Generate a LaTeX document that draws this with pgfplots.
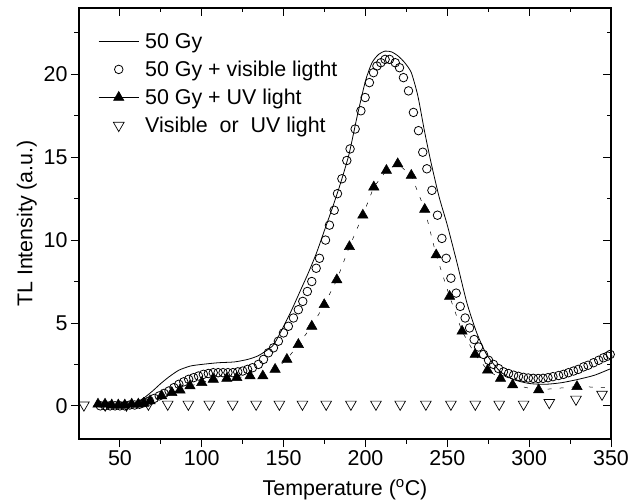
\documentclass[border=0pt]{standalone}
\usepackage{fontspec}
\setmainfont{Liberation Sans}
\usepackage{pgfplots}
\pgfplotsset{compat=1.18}
\pgfplotsset{
  leg line/.style={legend image code/.code={\draw[##1] (0bp,0bp) -- (40bp,0bp);}},
  leg mark/.style={legend image code/.code={\draw[##1] plot coordinates {(20bp,0bp)};}},
  leg linemark/.style={legend image code/.code={\draw[##1,solid] (0bp,0bp) -- (40bp,0bp); \draw[##1] plot coordinates {(20bp,0bp)};}},
  common/.style={
    scale only axis, width=532bp, height=431bp,
    xmin=25, xmax=350, ymin=-2, ymax=24,
    at={(0,0)}, anchor=south west,
    xtick={50,100,...,350}, minor xtick={75,125,...,325},
    ytick={0,5,...,20}, minor ytick={-2.5,2.5,7.5,...,22.5},
    major tick length=8bp, minor tick length=4.5bp,
    tick style={black, line width=0.9bp},
    axis line style={line width=1.2bp},
  }
}
\begin{document}
\begin{tikzpicture}
\begin{axis}[common,
  tick align=inside, xtick pos=top, ytick pos=right,
  xticklabels={}, yticklabels={},
]
\end{axis}
\begin{axis}[common,
  tick align=outside, xtick pos=bottom, ytick pos=left,
  ticklabel style={font=\fontsize{21.5}{25}\selectfont},
  /pgf/number format/assume math mode=true,
  xlabel={Temperature (\textsuperscript{o}C)},
  ylabel={TL Intensity (a.u.)},
  label style={font=\fontsize{21.5}{25}\selectfont},
  xlabel style={yshift=-7bp},
  legend style={draw=none, fill=none, at={(0.036,0.946)}, anchor=north west,
    font=\fontsize{21.5}{25}\selectfont, row sep=7bp, column sep=4bp, inner sep=0pt},
  legend cell align=left,
]
% 50 Gy
\addplot[black, line width=0.8pt, smooth, tension=0.4, leg line]
coordinates {
(35,0.0) (45,0.02) (55,0.08) (60,0.2) (65,0.5) (70,0.9) (75,1.35) (80,1.75)
(86,2.15) (93,2.4) (100,2.5) (110,2.6) (120,2.65) (128,2.8) (134,3.0) (139,3.3)
(144,3.7) (150,4.8) (155,5.8) (160,6.9) (165,8.0) (170,9.2) (175,10.6) (180,12.0)
(185,13.5) (190,15.2) (195,17.5) (200,19.6) (204,20.7) (208,21.2) (212,21.4)
(216,21.35) (220,21.1) (224,20.7) (228,20.1) (232,18.7) (236,16.6) (240,14.7)
(245,12.6) (250,10.9) (256,8.6) (262,6.2) (268,4.4) (274,3.1) (282,2.1) (290,1.6)
(300,1.35) (310,1.3) (320,1.4) (330,1.6) (340,1.85) (350,2.25)
};
\addlegendentry{50 Gy}
% 50 Gy + visible
\addplot[only marks, mark=o, mark size=4.3pt, mark options={line width=0.8pt, black}, leg mark]
coordinates {
(38,0.0) (41,0.0) (44,0.0) (47,0.0) (50,0.0) (53,0.0) (56,0.05) (59,0.05) (62,0.1)
(65,0.2) (68,0.3) (71,0.45) (74,0.6) (77,0.75) (80,0.9) (83,1.1) (86,1.3) (89,1.45)
(92,1.6) (95,1.7) (98,1.8) (101,1.9) (104,1.95) (107,2.0) (110,2.0) (113,2.0)
(116,2.0) (119,2.0) (122,2.05) (125,2.1) (128,2.2) (131,2.3) (134.6,2.5) (137.7,2.8)
(140.7,3.2) (143.8,3.5) (146.8,3.9) (149.9,4.4) (152.9,4.8) (156,5.3) (159,5.8)
(161.7,6.3) (164.5,6.9) (167.2,7.5) (169.9,8.3) (171.9,8.9) (175.6,10.0) (178,10.9)
(180.9,11.8) (182.9,12.8) (185.6,13.7) (188.6,14.8) (190.6,15.5) (193.7,16.7)
(197.2,17.8) (199.8,18.6) (202.4,19.5) (204.9,20.1) (207,20.5) (209.4,20.7)
(212,20.9) (214.7,20.9) (218.2,20.7) (220.8,20.4) (223.2,19.8) (226.3,19.0)
(229.3,17.7) (232.4,16.6) (235,15.3) (237.5,14.3) (240.6,13.0) (244,11.5)
(246.7,10.1) (249.3,8.9) (252.2,7.7) (255.4,6.8) (257.9,6.0) (260.9,5.3) (263.6,4.7)
(266.4,4.0) (269.1,3.55) (272.1,3.1) (275.2,2.75) (278.2,2.5) (281.3,2.25)
(284.3,2.05) (287.4,1.95) (290.5,1.85) (293.5,1.78) (296.5,1.72) (299.5,1.68)
(302.5,1.66) (305.5,1.65) (308.5,1.66) (311.5,1.7) (314.5,1.76) (318,1.83) (321,1.9)
(324,2.0) (327.1,2.1) (330,2.2) (333.2,2.35) (336,2.45) (339.3,2.6) (342.5,2.75)
(345.4,2.9) (348,3.0) (349.5,3.1)
};
\addlegendentry{50 Gy + visible ligtht}
% 50 Gy + UV
\addplot[black, line width=0.5pt, dash pattern=on 4bp off 8bp,
  mark=triangle*, mark size=6pt, mark options={solid, fill=black}, leg linemark]
coordinates {
(36.6,0.1) (40.9,0.1) (45,0.05) (49,0.05) (53,0.05) (57.2,0.1) (61.2,0.1) (64.5,0.15)
(68.4,0.3) (75.5,0.6) (81.7,0.8) (86.7,0.95) (92.8,1.2) (100,1.4) (107,1.6)
(115.3,1.65) (121.4,1.7) (129.5,1.8) (137.3,1.8) (144.8,2.2) (152,2.8) (159,3.7)
(167.2,4.8) (174.8,6.1) (182.5,7.6) (190.2,9.6) (198.4,11.5) (205.1,13.2)
(212.8,14.2) (219.7,14.6) (228,13.9) (236.2,11.85) (243.2,9.1) (251.4,6.6) (259,4.5)
(267,3.1) (274.6,2.15) (282.5,1.65) (289.9,1.26) (305.8,0.96) (329.2,1.16)
};
\addlegendentry{50 Gy + UV light}
% Visible or UV
\addplot[only marks, mark=triangle, mark size=6.2pt, mark options={rotate=180, line width=0.7pt, black}, leg mark]
coordinates {
(28,0.05) (41,0.05) (54,0.05) (67.4,0.1) (79.2,0.1) (91.8,0.1) (104.6,0.1) (118.9,0.1)
(133.2,0.1) (147.4,0.1) (161.5,0.1) (176,0.1) (191.1,0.1) (206.4,0.1) (221.2,0.1)
(236.9,0.1) (252.2,0.1) (267.1,0.1) (281.7,0.1) (296.6,0.1) (312.3,0.2) (328.6,0.4)
(344.5,0.7)
};
\addlegendentry{Visible\ \ or\ \ UV light}
\addplot[black, line width=0.5pt, dash pattern=on 4bp off 8bp, forget plot]
coordinates {(329.2,1.16) (350,1.1)};
\end{axis}
\pgfresetboundingbox
\useasboundingbox (-79bp,-65bp) rectangle (562bp,439bp);
\end{tikzpicture}
\end{document}
